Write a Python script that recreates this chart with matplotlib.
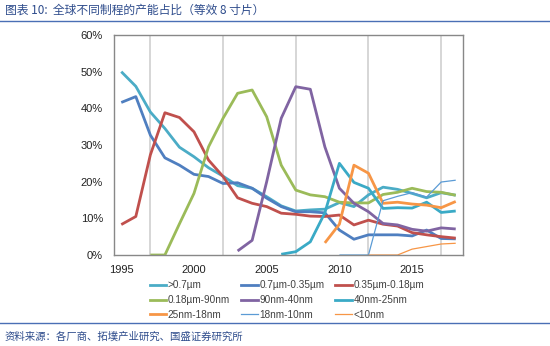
import matplotlib
matplotlib.use("Agg")
import matplotlib.pyplot as plt
from matplotlib.lines import Line2D

years = list(range(1995, 2019))

gt_07um = [50, 46, 39, 34.5, 29.4, 26.8, 23.8, 21.5, 18.9, 18.2, 15.9, 13.4,
           12.0, 12.3, 12.5, 14.3, 13.2, 16.4, 18.5, 17.9, 16.8, 15.6, 17.0, 16.3]
um07_035 = [41.6, 43.2, 32.7, 26.5, 24.5, 22.0, 21.4, 19.5, 19.7, 18.2, 15.5, 13.2,
            11.8, 11.8, 11.5, 6.8, 4.3, 5.5, 5.5, 5.5, 5.2, 6.8, 4.5, 4.4]
um035_018 = [8.3, 10.5, 27.3, 38.8, 37.5, 33.6, 25.9, 21.4, 15.6, 14.1, 13.2, 11.4,
             11.1, 10.6, 10.5, 10.9, 8.2, 9.5, 8.4, 7.9, 6.1, 5.5, 5.0, 4.6]
um018_90 = [None, None, 0, 0, 8.5, 16.8, 29.5, 37.3, 44.1, 45.0, 37.7, 24.5,
            17.7, 16.4, 15.9, 14.4, 14.2, 14.2, 16.5, 17.1, 18.2, 17.3, 17.1, 16.3]
nm90_40 = [None] * 8 + [1.1, 4.0, 20.0, 37.3, 45.9, 45.2, 29.5, 18.2,
                        14.1, 11.8, 8.6, 8.2, 7.0, 6.5, 7.4, 7.1]
nm40_25 = [None] * 11 + [0.2, 0.9, 3.6, 11.5, 25.0, 19.8, 18.2, 12.7, 12.9, 12.8,
                         14.4, 11.6, 12.0]
nm25_18 = [None] * 14 + [3.3, 8.4, 24.5, 22.3, 14.1, 14.4, 13.9, 13.6, 12.9, 14.6]
nm18_10 = [None] * 15 + [0, 0, 0, 14.8, 16.0, 17.0, 15.8, 19.9, 20.4]
lt10nm = [None] * 17 + [0, 0, 0, 1.6, 2.3, 3.0, 3.2]

labels = [">0.7µm", "0.7µm-0.35µm", "0.35µm-0.18µm",
          "0.18µm-90nm", "90nm-40nm", "40nm-25nm",
          "25nm-18nm", "18nm-10nm", "<10nm"]
series = [gt_07um, um07_035, um035_018, um018_90, nm90_40, nm40_25,
          nm25_18, nm18_10, lt10nm]
colors = ["#4BACC6", "#4F7FC0", "#C0504D", "#9BBB59", "#8064A2", "#3AAAC6",
          "#F79646", "#5B9BD5", "#F79646"]
widths = [2.0, 2.0, 2.0, 2.0, 2.0, 2.0, 2.0, 0.9, 0.9]

yticks = [0, 10, 20, 30, 40, 50, 60]
xticks = [1995, 2000, 2005, 2010, 2015]
grid_years = [1997, 2002, 2007, 2012, 2017]

W, H = 550, 346
fig = plt.figure(figsize=(W / 100, H / 100), dpi=100)
ax = fig.add_axes([114 / W, (H - 255) / H, (463 - 114) / W, (255 - 35) / H])

for s, c, lw, lab in zip(series, colors, widths, labels):
    xs = [y for y, v in zip(years, s) if v is not None]
    vs = [v for v in s if v is not None]
    ax.plot(xs, vs, color=c, lw=lw, label=lab, solid_capstyle="butt",
            solid_joinstyle="round")

ax.set_xlim(1994.5, 2018.5)
ax.set_ylim(0, 60)
ax.set_yticks(yticks)
ax.set_yticklabels([f"{t}%" for t in yticks])
ax.set_xticks(xticks)
ax.set_xticklabels([str(t) for t in xticks])
ax.set_xticks(grid_years, minor=True)
ax.grid(True, which="minor", axis="x", color="#D0D0D0", lw=1.2)
ax.tick_params(which="both", length=0)
ax.tick_params(axis="y", pad=8)
ax.tick_params(axis="x", pad=7)
for lbl in ax.get_xticklabels() + ax.get_yticklabels():
    lbl.set_fontfamily("Liberation Sans")
    lbl.set_fontsize(8)
    lbl.set_color("#222222")
for sp in ax.spines.values():
    sp.set_color("#888888")
    sp.set_linewidth(1.0)

# legend filled row by row (3 columns)
order = [0, 3, 6, 1, 4, 7, 2, 5, 8]
handles = [Line2D([0], [0], color=colors[i], lw=widths[i]) for i in order]
leg_labels = [labels[i] for i in order]
leg = fig.legend(handles, leg_labels, ncol=3, loc="center",
                 bbox_to_anchor=(287 / W, (H - 300) / H), frameon=False,
                 prop={"family": "Liberation Sans", "size": 7.2},
                 handlelength=1.65, handletextpad=0.15, columnspacing=1.1,
                 labelspacing=0.45, borderpad=0)
for t in leg.get_texts():
    t.set_color("#404040")

title_color = "#2E4C8C"
fig.text(5 / W, 1 - 10 / H, "图表 10:  全球不同制程的产能占比（等效 8 寸片）",
         family=["Noto Sans CJK SC", "DejaVu Sans"], fontsize=8.5,
         color=title_color, va="center", ha="left", style="italic")
fig.add_artist(Line2D([0, 1], [1 - 21 / H, 1 - 21 / H], transform=fig.transFigure,
                      color="#4A6FB5", lw=1.0))
fig.add_artist(Line2D([0, 1], [1 - 322.5 / H, 1 - 322.5 / H], transform=fig.transFigure,
                      color="#4A6FB5", lw=1.0))
fig.text(5 / W, 1 - 336.5 / H, "资料来源：各厂商、拓墣产业研究、国盛证券研究所",
         family=["Noto Sans CJK SC", "DejaVu Sans"], fontsize=7.5,
         color=title_color, va="center", ha="left", style="italic")

fig.savefig("out.png", dpi=100)
